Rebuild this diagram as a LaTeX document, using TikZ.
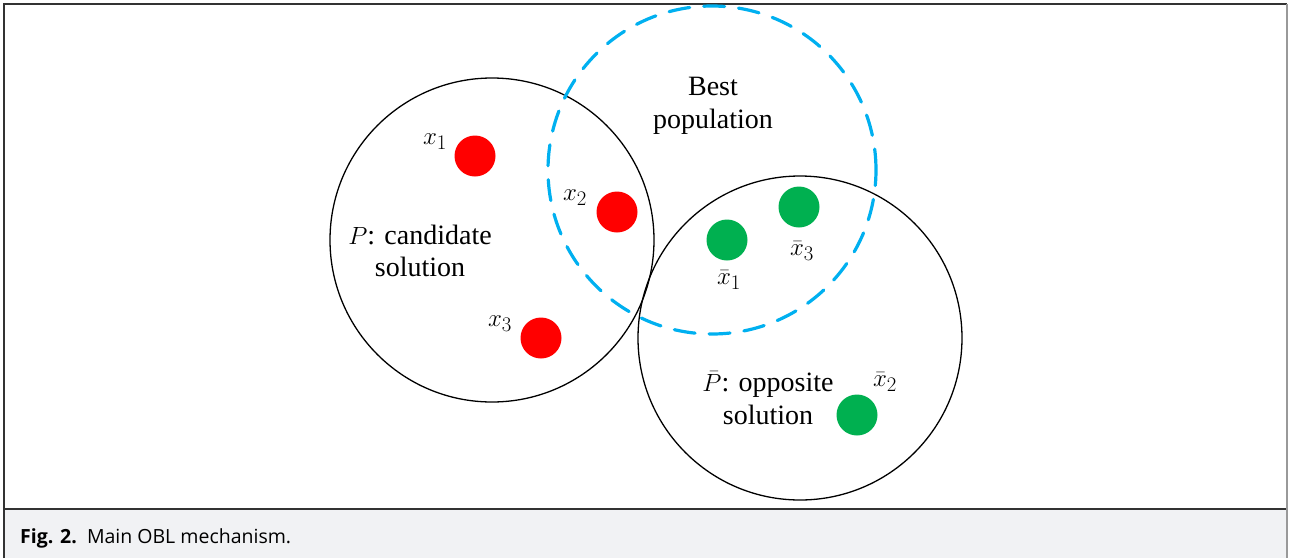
\documentclass[tikz,border=0pt]{standalone}
\usepackage{fontspec}
\setmainfont{Liberation Serif}
\newfontfamily\capfont{Open Sans}
\definecolor{redpt}{HTML}{FF0000}
\definecolor{greenpt}{HTML}{00B050}
\definecolor{bluept}{HTML}{00B0F0}
\definecolor{capbg}{HTML}{F1F2F4}
\definecolor{framec}{HTML}{333333}
\begin{document}
\begin{tikzpicture}[x=1pt,y=-1pt,
  setc/.style={circle,draw=black,line width=1.3pt,minimum size=324pt,inner sep=0pt},
  bestc/.style={circle,draw=bluept,line width=3.2pt,minimum size=328pt,inner sep=0pt,
    dash pattern=on 21pt off 14pt,line cap=round},
  rdot/.style={circle,fill=redpt,minimum size=41pt,inner sep=0pt},
  gdot/.style={circle,fill=greenpt,minimum size=41pt,inner sep=0pt},
  lbl/.style={font=\fontsize{30}{34}\selectfont,inner sep=0pt},
  txt/.style={font=\fontsize{28}{32.5}\selectfont,align=center,inner sep=0pt}]
\useasboundingbox (0,0) rectangle (1294,558);
% caption bar
\fill[capbg] (4,509) rectangle (1287,558);
\draw[framec,line width=1.2pt] (4,509) -- (1287,509);
\draw[framec,line width=1.5pt] (4,558) -- (4,4) -- (1287,4);
\draw[gray!80,line width=2.5pt] (1287,4) -- (1287,558);
\node[anchor=base west,inner sep=0pt,font=\capfont\fontsize{19.5}{24}\selectfont] (cap) at (20,543)
  {\textbf{Fig. 2.}\ \ Main OBL mechanism.};
% sets
\node[setc] (P) at (492,240) {};
\node[setc] (Pb) at (800,338) {};
\node[bestc] (B) at (712,170) {};
% points
\node[rdot] (x1) at (475,156) {};
\node[rdot] (x2) at (617,212) {};
\node[rdot] (x3) at (541,338) {};
\node[gdot] (xb1) at (727,240) {};
\node[gdot] (xb3) at (799,207) {};
\node[gdot] (xb2) at (857,415) {};
% labels
\node[lbl] (lx1) at (435,142) {$x_1$};
\node[lbl] (lx2) at (575,198) {$x_2$};
\node[lbl] (lx3) at (500,324) {$x_3$};
\node[lbl] (lxb1) at (729,280) {$\bar{x}_1$};
\node[lbl] (lxb3) at (802,251) {$\bar{x}_3$};
\node[lbl] (lxb2) at (885,382) {$\bar{x}_2$};
% texts
\node[txt] (tB) at (713,106) {Best\\population};
\node[txt] (tP) at (420,251) {$P$: candidate\\solution};
\node[txt] (tPb) at (768,398) {$\bar{P}$: opposite\\solution};
\end{tikzpicture}
\end{document}
